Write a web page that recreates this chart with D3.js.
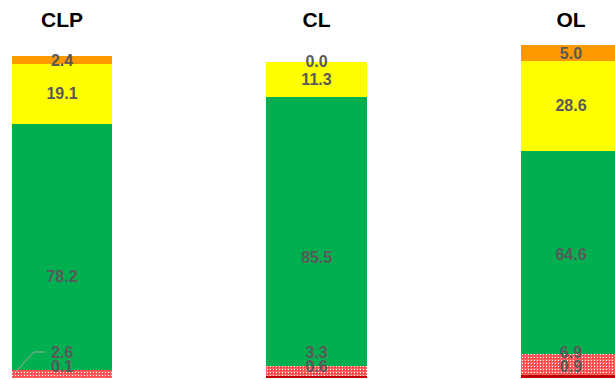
<!DOCTYPE html>
<html>
<head>
<meta charset="utf-8">
<script src="https://cdn.jsdelivr.net/npm/d3@7"></script>
<style>
  body { margin: 0; background: #fff; }
  svg { display: block; }
  .title { font-family: "Liberation Sans", Arial, sans-serif; font-weight: bold; font-size: 21px; fill: #000; }
  .lbl { font-family: "Liberation Sans", Arial, sans-serif; font-weight: bold; font-size: 16px; fill: #595959; }
</style>
</head>
<body>
<div id="chart"></div>
<script>
// categories and segment values (bottom -> top)
var cats = ["CLP", "CL", "OL"];
var darkRed = [0.1, 0.6, 0.9];
var pink    = [2.6, 3.3, 6.9];
var green   = [78.2, 85.5, 64.6];
var yellow  = [19.1, 11.3, 28.6];
var orange  = [2.4, 0.0, 5.0];

var keys = ["darkRed", "pink", "green", "yellow", "orange"];
var colors = { darkRed: "#C00000", pink: "url(#dots)", green: "#00B050", yellow: "#FFFF00", orange: "#FF9900" };

var rows = cats.map(function(c, i) {
  return { cat: c, darkRed: darkRed[i], pink: pink[i], green: green[i], yellow: yellow[i], orange: orange[i] };
});

var width = 615, height = 379;

// label nudges (vertical, px) for the big green labels
var greenNudge = { CLP: 30, CL: 26, OL: 2 };

var svg = d3.select("#chart").append("svg")
  .attr("width", width)
  .attr("height", height);

// red/white dotted fill like the excel pattern
var pat = svg.append("defs").append("pattern")
  .attr("id", "dots")
  .attr("x", 0).attr("y", 0)
  .attr("width", 3).attr("height", 3)
  .attr("patternUnits", "userSpaceOnUse");
pat.append("rect").attr("x", 0).attr("y", 0).attr("width", 3).attr("height", 3).style("fill", "#FF6060");
pat.append("rect").attr("x", 0).attr("y", 0).attr("width", 1).attr("height", 1).style("fill", "#FFFFFF");
pat.append("rect").attr("x", 1).attr("y", 1).attr("width", 1).attr("height", 1).style("fill", "#FF2020");

var x = d3.scaleBand()
  .domain(cats)
  .range([12, 621])
  .paddingInner(0.607)
  .paddingOuter(0);

var y = d3.scaleLinear()
  .domain([0, 106])
  .range([378, 378 - 106 * 3.14]);

var stacked = d3.stack().keys(keys)(rows);

var layers = svg.selectAll("g.layer")
  .data(stacked)
  .enter().append("g")
  .attr("class", "layer");

layers.selectAll("rect")
  .data(function(d) { return d.map(function(p) { p.key = d.key; return p; }); })
  .enter().append("rect")
  .attr("x", function(d) { return x(d.data.cat); })
  .attr("width", x.bandwidth())
  .attr("y", function(d) { return y(d[1]); })
  .attr("height", function(d) { return y(d[0]) - y(d[1]); })
  .style("fill", function(d) { return colors[d.key]; })
  .attr("shape-rendering", "crispEdges");

// titles
svg.selectAll("text.title")
  .data(cats)
  .enter().append("text")
  .attr("class", "title")
  .attr("x", function(d) { return x(d) + x.bandwidth() / 2; })
  .attr("y", 27)
  .attr("text-anchor", "middle")
  .text(function(d) { return d; });

// value labels
stacked.forEach(function(layer) {
  layer.forEach(function(d) {
    var cx = x(d.data.cat) + x.bandwidth() / 2;
    var cy;
    if (layer.key === "darkRed") cy = y(0) - 12;
    else if (layer.key === "pink") cy = y(0) - 26;
    else cy = (y(d[0]) + y(d[1])) / 2;
    if (layer.key === "green") cy += greenNudge[d.data.cat];
    svg.append("text")
      .attr("class", "lbl")
      .attr("x", cx)
      .attr("y", cy)
      .attr("text-anchor", "middle")
      .attr("dominant-baseline", "central")
      .text(d.data[layer.key].toFixed(1));

    // leader line for the CLP pink label
    if (layer.key === "pink" && d.data.cat === "CLP") {
      var left = x(d.data.cat);
      svg.append("polyline")
        .attr("points", [
          [cx - 17, cy], [cx - 28, cy], [left + 2, (y(d[0]) + y(d[1])) / 2]
        ].map(function(p) { return p.join(","); }).join(" "))
        .attr("fill", "none")
        .attr("stroke", "#A6A6A6")
        .attr("stroke-width", 1);
    }
  });
});
</script>
</body>
</html>
